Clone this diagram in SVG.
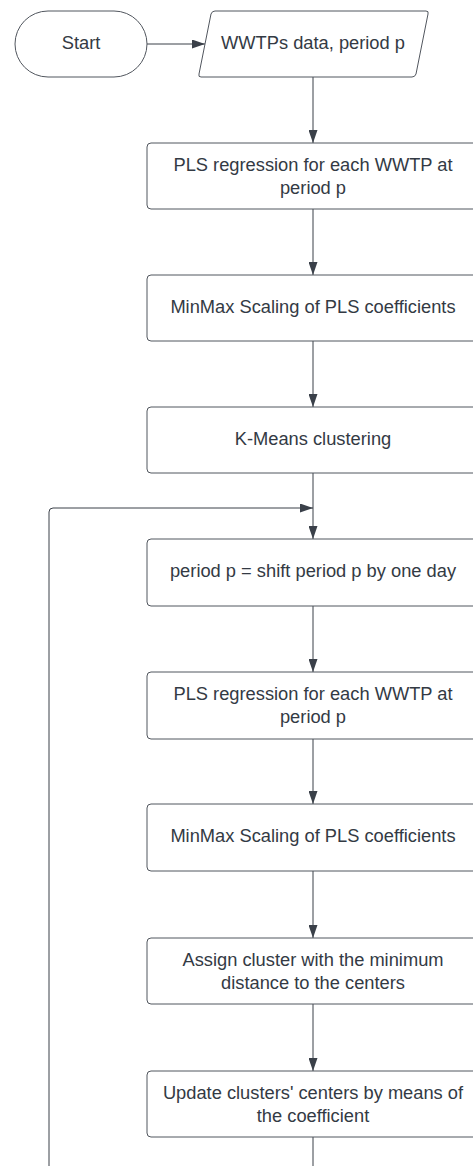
<svg xmlns="http://www.w3.org/2000/svg" width="473" height="1166" viewBox="0 0 473 1166">
  <style>
    .shape { fill: #ffffff; stroke: #51565e; stroke-width: 1; }
    .label { font-family: "Liberation Sans", Arial, sans-serif; font-size: 18.3px; fill: #333a44; text-anchor: middle; }
    .conn { fill: none; stroke: #3a4049; stroke-width: 1; }
  </style>
  <defs>
    <marker id="arrow" viewBox="0 0 13 9" refX="13" refY="4.5" markerWidth="13" markerHeight="9" markerUnits="userSpaceOnUse" orient="auto">
      <path d="M0,0 L13,4.5 L0,9 z" fill="#3a4049"/>
    </marker>
  </defs>
  <rect width="473" height="1166" fill="#ffffff"/>

  <!-- connectors -->
  <g id="connectors">
    <path class="conn" d="M147,44 H205" marker-end="url(#arrow)"/>
    <path class="conn" d="M313,77 V143" marker-end="url(#arrow)"/>
    <path class="conn" d="M313,209 V275" marker-end="url(#arrow)"/>
    <path class="conn" d="M313,341 V407" marker-end="url(#arrow)"/>
    <path class="conn" d="M313,473 V539" marker-end="url(#arrow)"/>
    <path class="conn" d="M49,1166 V512 Q49,508 53,508 H313" marker-end="url(#arrow)"/>
    <path class="conn" d="M313,606 V672" marker-end="url(#arrow)"/>
    <path class="conn" d="M313,739 V804" marker-end="url(#arrow)"/>
    <path class="conn" d="M313,871 V938" marker-end="url(#arrow)"/>
    <path class="conn" d="M313,1004 V1071" marker-end="url(#arrow)"/>
    <path class="conn" d="M313,1137 V1166"/>
  </g>

  <g id="start">
    <rect class="shape" x="15" y="11" width="132" height="66" rx="33" ry="33"/>
    <text class="label" x="81" y="48.5">Start</text>
  </g>

  <g id="input-data">
    <path class="shape" d="M215,11 H426 Q429,11 428,14 L416,74 Q415,77 412,77 H201 Q198,77 199,74 L211,14 Q212,11 215,11 z"/>
    <text class="label" x="313" y="48.5">WWTPs data, period p</text>
  </g>

  <g id="pls-initial">
    <rect class="shape" x="147" y="143" width="332" height="66" rx="4"/>
    <text class="label" x="313" y="171">PLS regression for each WWTP at</text>
    <text class="label" x="313" y="193.5">period p</text>
  </g>

  <g id="scaling-initial">
    <rect class="shape" x="147" y="275" width="332" height="66" rx="4"/>
    <text class="label" x="313" y="313">MinMax Scaling of PLS coefficients</text>
  </g>

  <g id="kmeans">
    <rect class="shape" x="147" y="407" width="332" height="66" rx="4"/>
    <text class="label" x="313" y="445">K-Means clustering</text>
  </g>

  <g id="shift-period">
    <rect class="shape" x="147" y="539" width="332" height="67" rx="4"/>
    <text class="label" x="313" y="577">period p = shift period p by one day</text>
  </g>

  <g id="pls-loop">
    <rect class="shape" x="147" y="672" width="332" height="67" rx="4"/>
    <text class="label" x="313" y="700">PLS regression for each WWTP at</text>
    <text class="label" x="313" y="722.5">period p</text>
  </g>

  <g id="scaling-loop">
    <rect class="shape" x="147" y="804" width="332" height="67" rx="4"/>
    <text class="label" x="313" y="842">MinMax Scaling of PLS coefficients</text>
  </g>

  <g id="assign-cluster">
    <rect class="shape" x="147" y="938" width="332" height="66" rx="4"/>
    <text class="label" x="313" y="966">Assign cluster with the minimum</text>
    <text class="label" x="313" y="988.5">distance to the centers</text>
  </g>

  <g id="update-centers">
    <rect class="shape" x="147" y="1071" width="332" height="66" rx="4"/>
    <text class="label" x="313" y="1099">Update clusters' centers by means of</text>
    <text class="label" x="313" y="1121.5">the coefficient</text>
  </g>
</svg>
